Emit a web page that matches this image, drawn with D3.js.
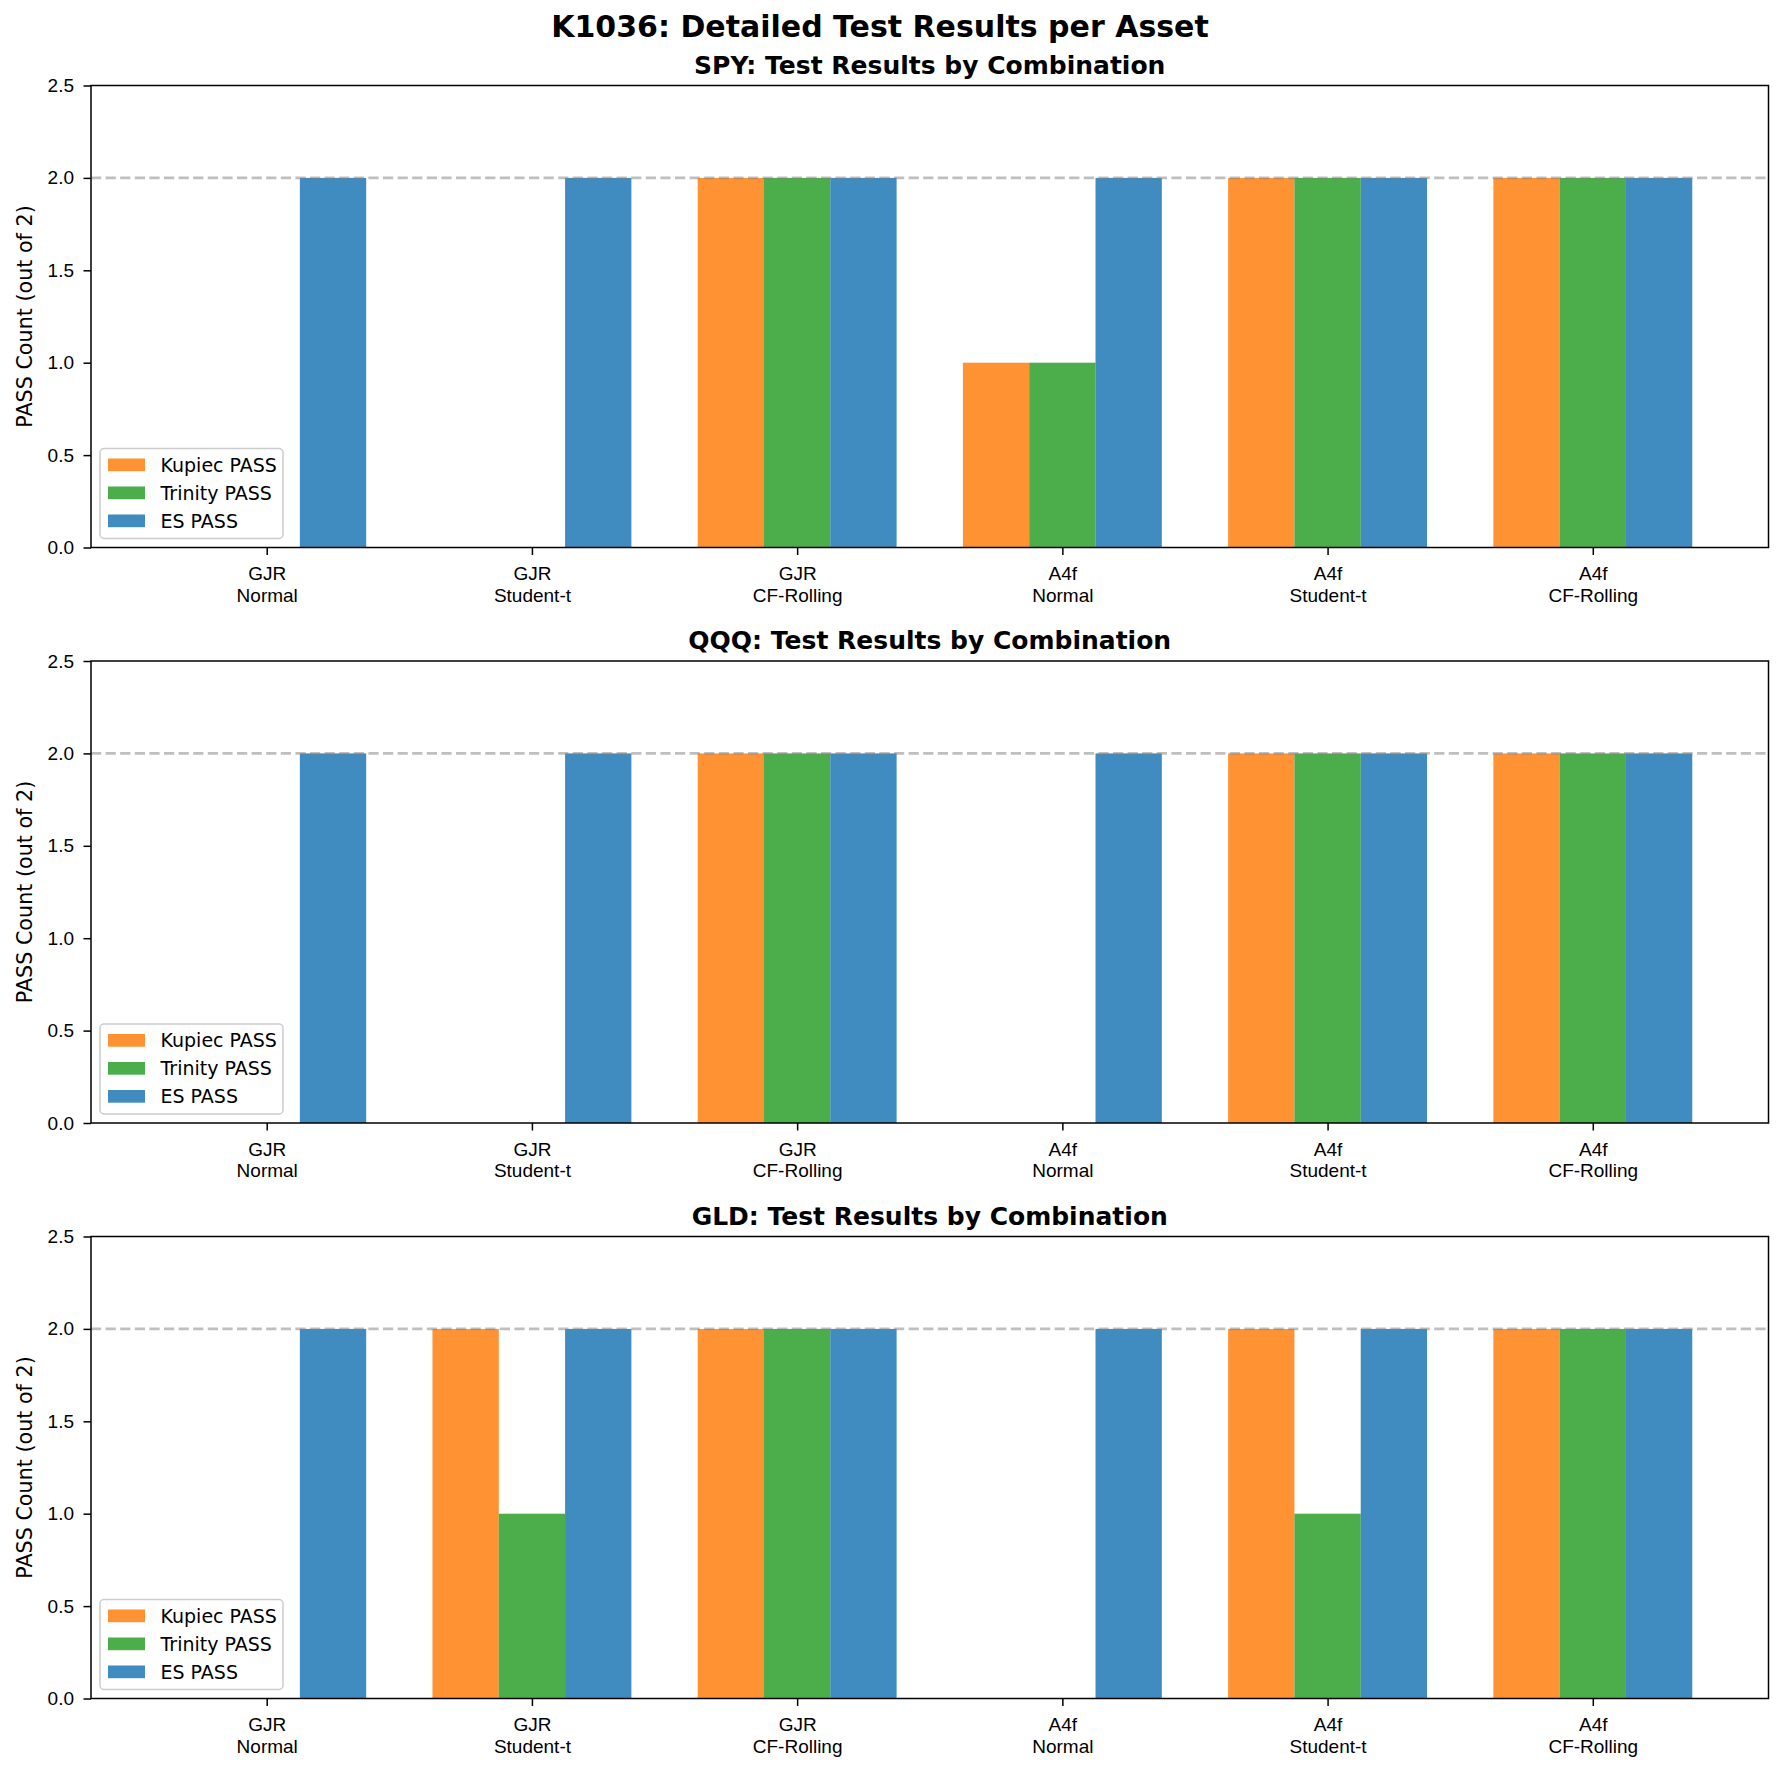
<!DOCTYPE html>
<html>
<head>
<meta charset="utf-8">
<script src="https://cdn.jsdelivr.net/npm/d3@7"></script>
<style>
  body { margin: 0; background: #fff; }
  svg { font-family: "DejaVu Sans", sans-serif; display: block; }
</style>
</head>
<body>
<svg id="chart"></svg>
<script>
// data
const combos = ["GJR\nNormal", "GJR\nStudent-t", "GJR\nCF-Rolling", "A4f\nNormal", "A4f\nStudent-t", "A4f\nCF-Rolling"];
const assets = ["SPY", "QQQ", "GLD"];
const tests = ["Kupiec PASS", "Trinity PASS", "ES PASS"];
const spyKupiec = [0, 0, 2, 1, 2, 2];
const spyTrinity = [0, 0, 2, 1, 2, 2];
const spyES = [2, 2, 2, 2, 2, 2];
const qqqKupiec = [0, 0, 2, 0, 2, 2];
const qqqTrinity = [0, 0, 2, 0, 2, 2];
const qqqES = [2, 2, 2, 2, 2, 2];
const gldKupiec = [0, 2, 2, 0, 2, 2];
const gldTrinity = [0, 1, 2, 0, 1, 2];
const gldES = [2, 2, 2, 2, 2, 2];
const yTicks = [0, 0.5, 1.0, 1.5, 2.0, 2.5];
const maxCount = 2;

const seriesByAsset = {
  SPY: [spyKupiec, spyTrinity, spyES],
  QQQ: [qqqKupiec, qqqTrinity, qqqES],
  GLD: [gldKupiec, gldTrinity, gldES]
};

const W = 1784, H = 1770;
const colors = ["#ff7f0e", "#2ca02c", "#1f77b4"];
const barW = 0.25;
const left = 91, right = 1768.5;
const tops = [85.5, 661, 1236.5];
const panelH = 462;
const tickFont = "19px";

const svg = d3.select("#chart").attr("width", W).attr("height", H);

svg.append("text")
  .attr("x", 880).attr("y", 37)
  .attr("text-anchor", "middle")
  .style("font-size", "30px").style("font-weight", "bold")
  .text("K1036: Detailed Test Results per Asset");

const x = d3.scaleLinear()
  .domain([-0.6625, 5.6625])
  .range([left, right]);

assets.forEach((asset, ai) => {
  const top = tops[ai], bottom = top + panelH;
  const y = d3.scaleLinear().domain([0, 2.5]).range([bottom, top]);
  const g = svg.append("g");
  const series = seriesByAsset[asset];

  // bars
  series.forEach((vals, si) => {
    g.selectAll(".bar" + si)
      .data(vals)
      .enter().append("rect")
      .attr("x", (d, i) => x(i + (si - 1) * barW - barW / 2))
      .attr("width", x(barW) - x(0))
      .attr("y", d => y(d))
      .attr("height", d => y(0) - y(d))
      .attr("fill", colors[si])
      .attr("fill-opacity", 0.85);
  });

  // reference line at max count
  g.append("line")
    .attr("x1", left).attr("x2", right)
    .attr("y1", y(maxCount)).attr("y2", y(maxCount))
    .attr("stroke", "#808080").attr("stroke-opacity", 0.5)
    .attr("stroke-width", 2.75)
    .attr("stroke-dasharray", "10.2,4.4");

  // y axis
  const ya = g.append("g")
    .attr("transform", `translate(${left},0)`)
    .call(d3.axisLeft(y).tickValues(yTicks).tickFormat(d3.format(".1f")).tickSize(7.5).tickSizeOuter(0).tickPadding(9.5));
  ya.select(".domain").remove();
  ya.selectAll("line").attr("stroke", "#000").attr("stroke-width", 1.5);
  ya.selectAll("text").style("font-size", tickFont).attr("fill", "#000");

  // x axis
  const xa = g.append("g")
    .attr("transform", `translate(0,${bottom})`)
    .call(d3.axisBottom(x).tickValues(d3.range(combos.length)).tickSize(7.5).tickSizeOuter(0).tickFormat(""));
  xa.select(".domain").remove();
  xa.selectAll("line").attr("stroke", "#000").attr("stroke-width", 1.5);
  xa.selectAll(".tick").each(function(d) {
    const t = d3.select(this).append("text")
      .attr("text-anchor", "middle")
      .attr("fill", "#000")
      .style("font-size", tickFont);
    combos[d].split("\n").forEach((line, li) => {
      t.append("tspan").attr("x", 0).attr("y", 32.5 + li * 21.8).text(line);
    });
  });

  // frame
  g.append("rect")
    .attr("x", left).attr("y", top)
    .attr("width", right - left).attr("height", panelH)
    .attr("fill", "none").attr("stroke", "#000").attr("stroke-width", 1.5);

  // subplot title
  g.append("text")
    .attr("x", (left + right) / 2).attr("y", top - 12)
    .attr("text-anchor", "middle")
    .style("font-size", "25px").style("font-weight", "bold")
    .text(`${asset}: Test Results by Combination`);

  // y label
  g.append("text")
    .attr("transform", `translate(31.5,${(top + bottom) / 2}) rotate(-90)`)
    .attr("text-anchor", "middle")
    .style("font-size", "20.7px")
    .text(`PASS Count (out of ${maxCount})`);

  // legend
  const lg = g.append("g").attr("transform", `translate(${left + 9},${bottom - 99})`);
  lg.append("rect")
    .attr("width", 183).attr("height", 90).attr("rx", 4)
    .attr("fill", "#fff").attr("fill-opacity", 0.8)
    .attr("stroke", "#cccccc").attr("stroke-width", 1.5);
  tests.forEach((name, si) => {
    const row = lg.append("g").attr("transform", `translate(0,${10 + si * 28})`);
    row.append("rect")
      .attr("x", 8).attr("y", 0).attr("width", 37).attr("height", 12.7)
      .attr("fill", colors[si]).attr("fill-opacity", 0.85);
    row.append("text")
      .attr("x", 60.5).attr("y", 13)
      .style("font-size", tickFont)
      .text(name);
  });
});
</script>
</body>
</html>
